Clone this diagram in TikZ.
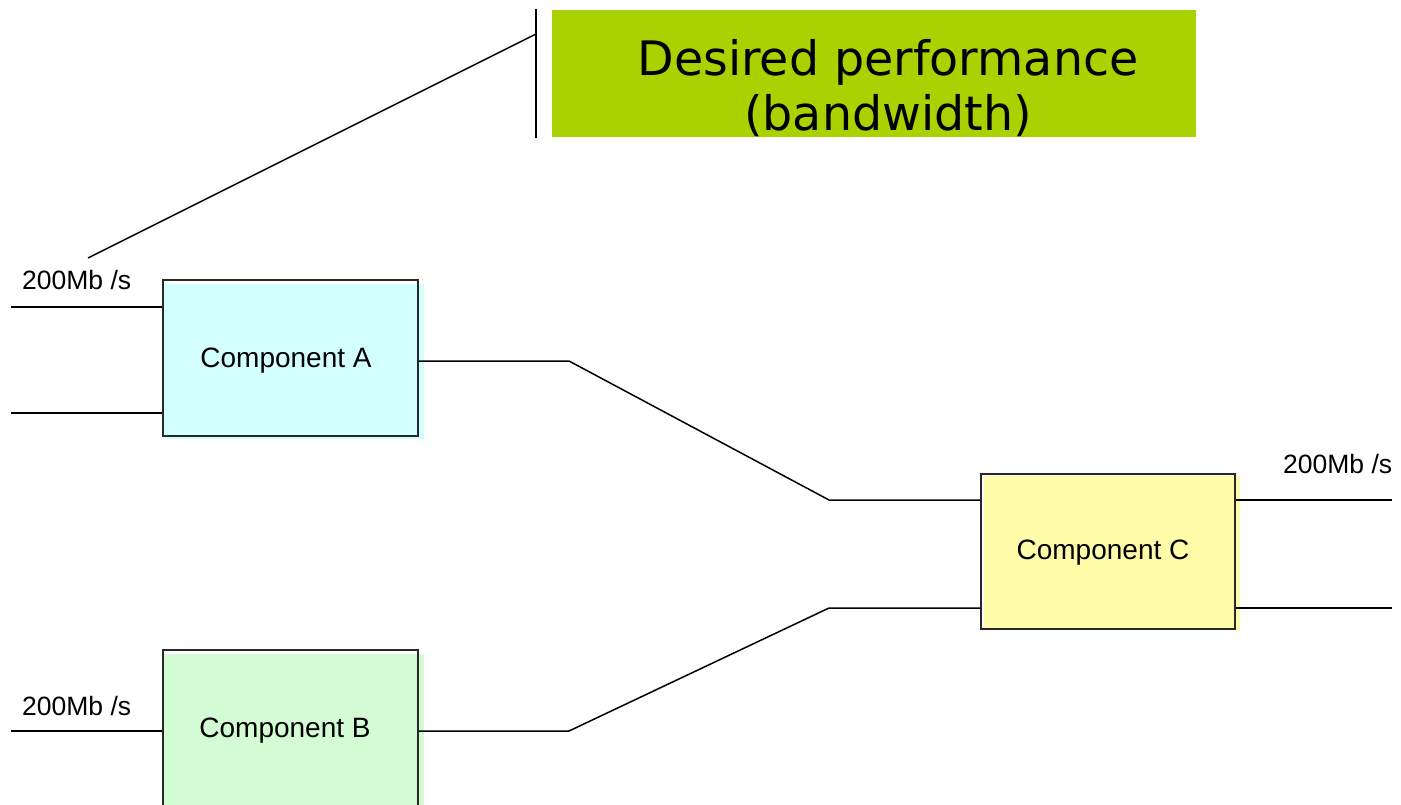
\documentclass[tikz,border=0pt]{standalone}
\usepackage{fontspec}
\setmainfont{Liberation Sans}
\newfontfamily\calloutfont{DejaVu Sans}
\usetikzlibrary{backgrounds}
\definecolor{perfgreen}{RGB}{169,210,0}
\definecolor{fillA}{RGB}{212,255,255}
\definecolor{fillB}{RGB}{212,252,212}
\definecolor{fillC}{RGB}{255,252,170}
\definecolor{edgecol}{RGB}{40,40,40}
\begin{document}
\begin{tikzpicture}[x=1pt,y=-1pt,
  comp/.style={rectangle, draw=edgecol, line width=1.5pt, inner sep=0pt,
    minimum width=255pt, minimum height=156pt},
  comptext/.style={font=\fontsize{28}{32}\selectfont, inner sep=0pt, anchor=base},
  wire/.style={draw=black, line width=1.5pt},
  rate/.style={font=\fontsize{26.5}{30}\selectfont, inner sep=0pt, anchor=base west},
]
\useasboundingbox (0,0) rectangle (1401,805);
% components
\node[comp] (ca) at (290.5,358) {};
\node[comp, minimum height=160pt] (cb) at (290.5,730) {};
\node[comp, minimum width=254pt, minimum height=155pt] (cc) at (1108,551.5) {};
\node[comptext] (cat) at (286,367) {Component A};
\node[comptext] (cbt) at (285,737) {Component B};
\node[comptext] (cct) at (1103,559) {Component C};
\begin{pgfonlayer}{background}
  \fill[fillA] ([shift={(0pt,-5pt)}]ca.north west) rectangle ([shift={(5pt,-2pt)}]ca.south east);
  \fill[fillB] ([shift={(0pt,-5pt)}]cb.north west) rectangle ([shift={(5pt,-2pt)}]cb.south east);
  \fill[fillC] ([shift={(4pt,-3pt)}]cc.north west) rectangle ([shift={(4pt,0pt)}]cc.south east);
\end{pgfonlayer}
% rate labels
\node[rate] (ra) at (22,290) {200Mb /s};
\node[rate] (rb) at (22,715) {200Mb /s};
\node[rate] (rc) at (1283,473) {200Mb /s};
% coordinates
\coordinate (ain1) at (11,307);
\coordinate (ain2) at (11,413);
\coordinate (bin) at (11,731);
\coordinate (abend1) at (569,361);
\coordinate (abend2) at (829,500);
\coordinate (bbend1) at (569,731);
\coordinate (bbend2) at (829,608);
\coordinate (cout1) at (1392,500);
\coordinate (cout2) at (1392,608);
% wires
\draw[wire] (ain1) -- (ain1 -| ca.west);
\draw[wire] (ain2) -- (ain2 -| ca.west);
\draw[wire] (bin) -- (bin -| cb.west);
\draw[wire] (abend1 -| ca.east) -- (abend1) -- (abend2) -- (abend2 -| cc.west);
\draw[wire] (bbend1 -| cb.east) -- (bbend1) -- (bbend2) -- (bbend2 -| cc.west);
\draw[wire] (cout1 -| cc.east) -- (cout1);
\draw[wire] (cout2 -| cc.east) -- (cout2);
% callout
\node[fill=perfgreen, minimum width=644pt, minimum height=127pt, inner sep=0pt, anchor=north west] (perf) at (552,10) {};
\node[font=\calloutfont\fontsize{47.5}{55}\selectfont, align=center, inner sep=0pt] (perftext) at (888,88) {Desired performance\\(bandwidth)};
\coordinate (brtop) at (536,9);
\coordinate (brbot) at (536,138);
\coordinate (brmid) at (536,34);
\coordinate (tail) at (88,258);
\draw[wire] (brtop) -- (brbot);
\draw[wire] (tail) -- (brmid);
\end{tikzpicture}
\end{document}
